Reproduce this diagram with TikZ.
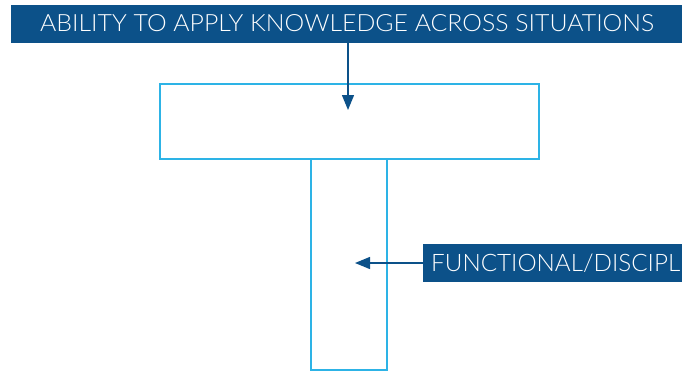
\documentclass[tikz,border=0pt]{standalone}
\usepackage{fontspec}
\setmainfont{Lato}[UprightFont={* Light}]
\usetikzlibrary{arrows.meta}
\definecolor{darkblue}{HTML}{0C5189}
\definecolor{lightblue}{HTML}{2DB3E6}
\tikzset{
  banner/.style={fill=darkblue, draw=none, inner sep=0pt, anchor=north west},
  btext/.style={text=white, inner sep=0pt, anchor=base west},
  outline/.style={draw=lightblue, line width=2pt, fill=none},
  link/.style={draw=darkblue, line width=1.3pt, -{Triangle[length=15pt,width=12pt]}}
}
\begin{document}
\begin{tikzpicture}[x=1pt,y=-1pt]
\useasboundingbox (0,0) rectangle (682,370);
\node[banner, minimum width=671pt, minimum height=38pt] (topbanner) at (11,5) {};
\node[btext] (toptext) at (40,31) {\resizebox{614pt}{17pt}{ABILITY TO APPLY KNOWLEDGE ACROSS SITUATIONS}};
\node[outline, minimum width=379pt, minimum height=75pt, anchor=north west, inner sep=0pt] (topbox) at (159,83) {};
\node[outline, minimum width=76pt, minimum height=211pt, anchor=north west, inner sep=0pt] (stem) at (310,158) {};
\node[banner, minimum width=270pt, minimum height=38pt] (sidebanner) at (423,244) {};
\node[btext] (sidetext) at (431,271) {\resizebox{249pt}{17.5pt}{FUNCTIONAL/DISCIPL}};
\coordinate (toptip) at (348,110);
\coordinate (sidetip) at (355,263);
\draw[link] (topbanner.south -| toptip) -- (toptip);
\draw[link] (sidebanner.west |- sidetip) -- (sidetip);
\end{tikzpicture}
\end{document}
